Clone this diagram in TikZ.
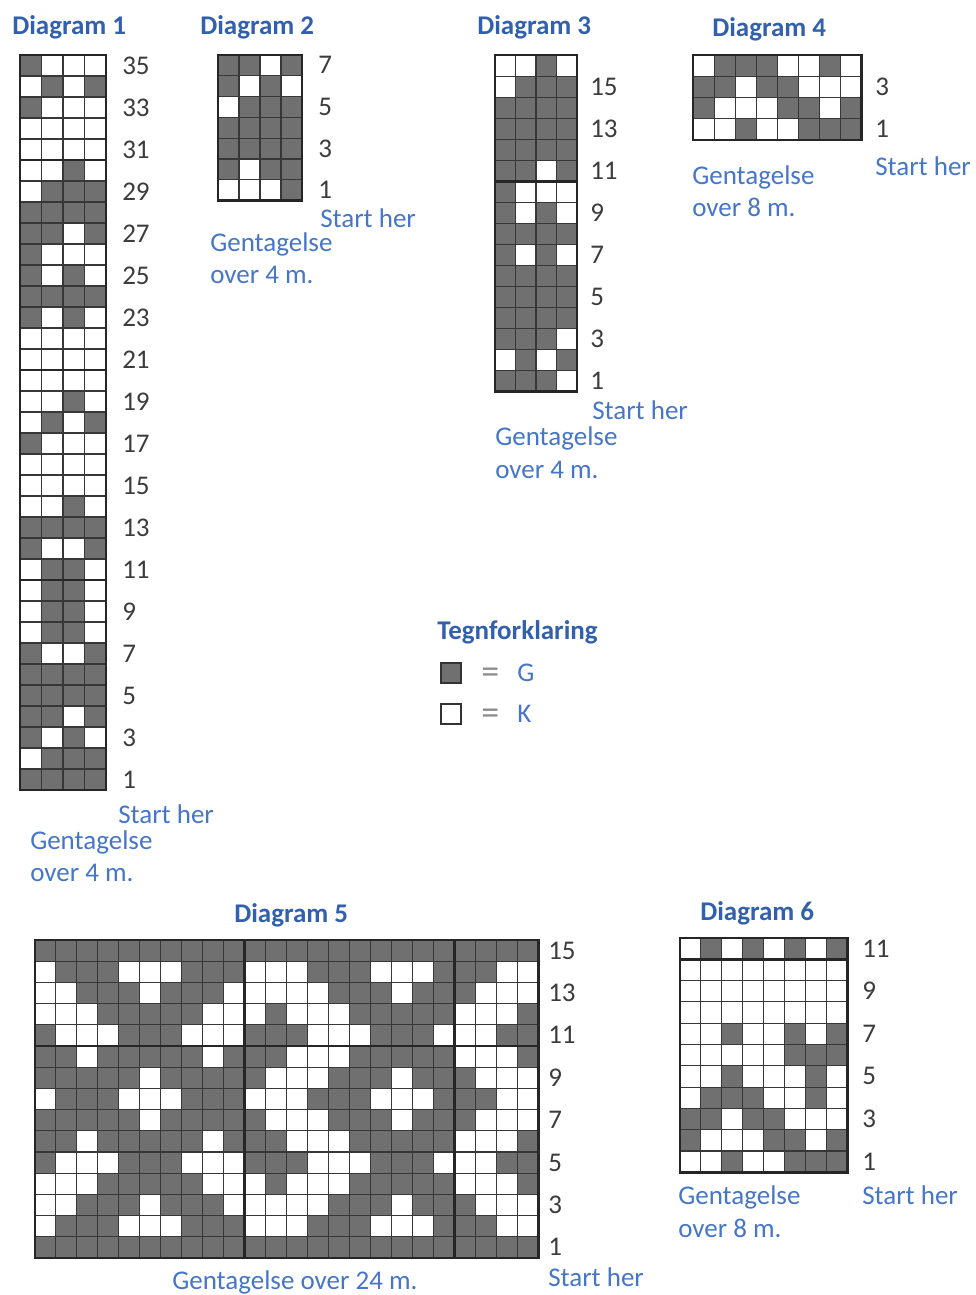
\documentclass[tikz,border=0pt]{standalone}
\usepackage{fontspec}
\setmainfont{Carlito}
\definecolor{cellg}{RGB}{112,112,112}
\definecolor{txtblue}{RGB}{70,118,200}
\definecolor{ttlblue}{RGB}{50,96,172}
\definecolor{numgray}{RGB}{60,60,60}
\definecolor{gridc}{RGB}{55,55,55}
\newcount\gx
\def\gridrowA#1{%
  \ifx#1\relax\else
    \ifnum#1=1 \fill[cellg] (\gox+\the\gx*\gcw,\goy+\ri*\gch) rectangle ++(\gcw,\gch);\fi
    \global\advance\gx by 1
    \expandafter\gridrowA
  \fi}
% #1 ox, #2 oy, #3 cw, #4 ch, #5 ncols, #6 nrows, #7 rows (top to bottom)
\newcommand\knitchart[7]{%
  \def\gox{#1}\def\goy{#2}\def\gcw{#3}\def\gch{#4}%
  \foreach \rs [count=\ri from 0] in {#7} {\global\gx=0 \expandafter\gridrowA\rs\relax}%
  \pgfmathtruncatemacro\ncm{#5-1}%
  \pgfmathtruncatemacro\nrm{#6-1}%
  \foreach \k in {1,...,\ncm} {\draw[thinl] ({#1+\k*#3},#2) -- ++(0,{#6*#4});}%
  \foreach \k in {1,...,\nrm} {\draw[thinl] (#1,{#2+\k*#4}) -- ++({#5*#3},0);}%
  \draw[thickl] (#1,#2) rectangle ++({#5*#3},{#6*#4});%
}
\tikzset{
  thinl/.style={draw=gridc, line width=0.8pt},
  thickl/.style={draw=black!85, line width=2.2pt},
  num/.style={font=\fontsize{20.25}{24}\selectfont, text=numgray, anchor=west, inner sep=0pt, text height=12.8pt, text depth=0pt},
  lbl/.style={font=\fontsize{20.25}{24}\selectfont, text=txtblue, anchor=base west, inner sep=0pt},
  ttl/.style={font=\fontsize{20.25}{24}\selectfont\bfseries, text=ttlblue, anchor=base west, inner sep=0pt},
  eqs/.style={font=\fontsize{27}{30}\selectfont, text=black!45, anchor=base west, inner sep=0pt},
  legbox/.style={draw=black!80, line width=2pt, minimum size=15pt, inner sep=0pt}
}
\begin{document}
\begin{tikzpicture}[x=0.75pt,y=-0.75pt]
\useasboundingbox[fill=white] (0,0) rectangle (975,1295);

% ---------- Diagram 1 ----------
\knitchart{20}{55}{21.5}{21}{4}{35}{1000,0101,1000,0000,0000,0010,0111,1111,1101,1000,1010,1111,1010,0000,0000,0000,0010,0101,1000,0000,0000,0010,1111,1001,0110,0110,0110,0110,1001,1111,1111,1101,1010,0111,1111}
\foreach \yy in {160,370,580} {\draw[thickl] (20,\yy) -- (106,\yy);}
\foreach \n in {35,33,...,1} {\pgfmathsetmacro\yy{55+(35-\n+0.5)*21}\node[num] (d1n\n) at (122,\yy) {\n};}
\node[ttl] (t1) at (12,35) {Diagram 1};
\node[lbl] (s1) at (118,823) {Start her};
\node[lbl] (g1) at (30,849) {Gentagelse};
\node[lbl] (o1) at (30,881) {over 4 m.};

% ---------- Diagram 2 ----------
\knitchart{218}{55}{21}{20.8}{4}{7}{1101,1010,0111,1111,1111,1011,0001}
\foreach \n in {7,5,...,1} {\pgfmathsetmacro\yy{55+(7-\n+0.5)*20.8}\node[num] (d2n\n) at (318,\yy) {\n};}
\node[ttl] (t2) at (200,35) {Diagram 2};
\node[lbl] (s2) at (320,227) {Start her};
\node[lbl] (g2) at (210,251) {Gentagelse};
\node[lbl] (o2) at (210,283) {over 4 m.};

% ---------- Diagram 3 ----------
\knitchart{495}{55}{20.5}{21.06}{4}{16}{0010,0111,1111,1111,1111,1101,1000,1010,1111,1010,1111,1111,1111,1110,0101,1110}
\draw[thickl] (495,181.4) -- (577,181.4);
\foreach \n in {15,13,...,1} {\pgfmathsetmacro\yy{55+(16-\n+0.5)*21.06}\node[num] (d3n\n) at (590,\yy) {\n};}
\node[ttl] (t3) at (477,35) {Diagram 3};
\node[lbl] (s3) at (592,419) {Start her};
\node[lbl] (g3) at (495,445) {Gentagelse};
\node[lbl] (o3) at (495,478) {over 4 m.};

% ---------- Diagram 4 ----------
\knitchart{693}{55}{21.1}{21.25}{8}{4}{01110010,11011000,10001101,00100111}
\foreach \n in {3,1} {\pgfmathsetmacro\yy{55+(4-\n+0.5)*21.25}\node[num] (d4n\n) at (875,\yy) {\n};}
\node[ttl] (t4) at (712,37) {Diagram 4};
\node[lbl] (s4) at (875,175) {Start her};
\node[lbl] (g4) at (692,184) {Gentagelse};
\node[lbl] (o4) at (692,216) {over 8 m.};

% ---------- Legend ----------
\node[ttl] (leg) at (437,639) {Tegnforklaring};
\node[legbox, fill=cellg] (legG) at (451,673) {};
\node[legbox, fill=white] (legK) at (451,714) {};
\node[eqs] (eqG) at (481,683) {=};
\node[eqs] (eqK) at (481,724) {=};
\node[lbl] (lG) at (517,681) {G};
\node[lbl] (lK) at (517,722) {K};

% ---------- Diagram 5 ----------
\knitchart{35}{940}{20.96}{21.2}{24}{15}{111111111111111111111111,011100011100011100011100,001110111000001110111000,000111110001000111110001,100011100011100011100011,110111110111000111110001,111110111110001110111000,011100011100011100011100,111110111110001110111000,110111110111000111110001,100011100011100011100011,000111110001000111110001,001110111000001110111000,011100011100011100011100,111111111111111111111111}
\draw[thickl] (35,1046) -- (538,1046);
\draw[thickl] (244.6,940) -- (244.6,1258);
\draw[thickl] (454.2,940) -- (454.2,1258);
\foreach \n in {15,13,...,1} {\pgfmathsetmacro\yy{940+(15-\n+0.5)*21.2}\node[num] (d5n\n) at (548,\yy) {\n};}
\node[ttl] (t5) at (234,922) {Diagram 5};
\node[lbl] (s5) at (548,1286) {Start her};
\node[lbl] (g5) at (172,1289) {Gentagelse over 24 m.};

% ---------- Diagram 6 ----------
\knitchart{680}{938}{20.9}{21.3}{8}{11}{01010101,00000000,00000000,00000000,00100101,00000111,00100010,01110010,11011000,10001101,00100111}
\draw[thickl] (680,959.3) -- (847,959.3);
\foreach \n in {11,9,...,1} {\pgfmathsetmacro\yy{938+(11-\n+0.5)*21.3}\node[num] (d6n\n) at (862,\yy) {\n};}
\node[ttl] (t6) at (700,920) {Diagram 6};
\node[lbl] (s6) at (862,1204) {Start her};
\node[lbl] (g6) at (678,1204) {Gentagelse};
\node[lbl] (o6) at (678,1237) {over 8 m.};
\end{tikzpicture}
\end{document}
